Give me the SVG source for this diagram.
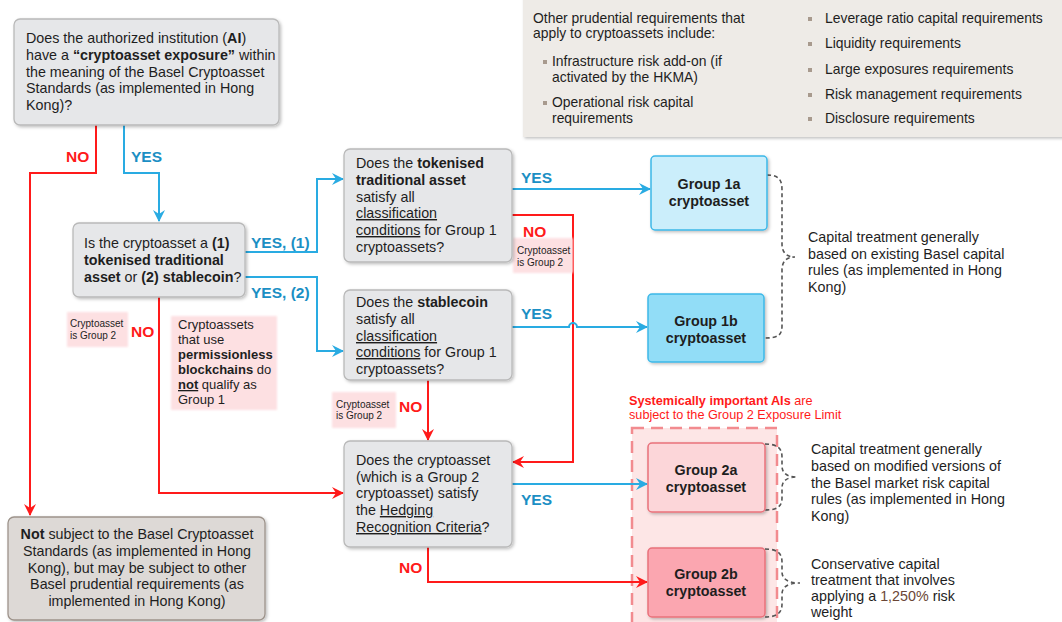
<svg xmlns="http://www.w3.org/2000/svg" width="1062" height="622" viewBox="0 0 1062 622">
<style>
text{font-family:"Liberation Sans",Arial,sans-serif;fill:#1e1e1e}
.t{font-size:14.3px}
.s{font-size:13.9px}
.n{font-size:13px}
.xs{font-size:10px}
.b{font-weight:bold}
.u{text-decoration:underline}
.q{fill:#e6e7e9;stroke:#b9b9b9;stroke-width:1.3}
.lab{font-size:15.5px;font-weight:bold}
.yl{fill:#1b8fc4}
.nl{fill:#ff1a1a}
.bl{fill:none;stroke:#29abe2;stroke-width:2}
.rl{fill:none;stroke:#ff1a1a;stroke-width:2}
.note{fill:#fde0e2}
.br{fill:none;stroke:#555;stroke-width:1.6;stroke-dasharray:4 3}
.g{font-size:14.3px;font-weight:bold;text-anchor:middle}
</style>
<defs>
<filter id="sh" x="-10%" y="-10%" width="125%" height="130%"><feDropShadow dx="1.5" dy="1.5" stdDeviation="1.4" flood-color="#000" flood-opacity="0.25"/></filter>
<filter id="soft" x="-10%" y="-10%" width="120%" height="120%"><feGaussianBlur stdDeviation="1.2"/></filter>
<marker id="ab" viewBox="0 0 12 12" refX="11" refY="6" markerWidth="12" markerHeight="12" markerUnits="userSpaceOnUse" orient="auto"><path d="M0,0 L12,6 L0,12 L4,6 z" fill="#29abe2"/></marker>
<marker id="ar" viewBox="0 0 12 12" refX="11" refY="6" markerWidth="12" markerHeight="12" markerUnits="userSpaceOnUse" orient="auto"><path d="M0,0 L12,6 L0,12 L4,6 z" fill="#ff1a1a"/></marker>
</defs>

<rect x="0" y="0" width="1062" height="622" fill="#fff"/>

<!-- Other requirements panel -->
<g id="other-reqs">
<rect x="523" y="-4" width="545" height="141" fill="#eeebe7" filter="url(#sh)"/>
<text class="s" x="533" y="23">Other prudential requirements that</text>
<text class="s" x="533" y="38">apply to cryptoassets include:</text>
<rect x="543" y="60" width="4" height="4" fill="#a89a8e"/>
<text class="s" x="552" y="66">Infrastructure risk add-on (if</text>
<text class="s" x="552" y="82">activated by the HKMA)</text>
<rect x="543" y="101" width="4" height="4" fill="#a89a8e"/>
<text class="s" x="552" y="107">Operational risk capital</text>
<text class="s" x="552" y="123">requirements</text>
<rect x="808" y="17" width="4" height="4" fill="#a89a8e"/>
<text class="s" x="825" y="23">Leverage ratio capital requirements</text>
<rect x="808" y="42" width="4" height="4" fill="#a89a8e"/>
<text class="s" x="825" y="48">Liquidity requirements</text>
<rect x="808" y="68" width="4" height="4" fill="#a89a8e"/>
<text class="s" x="825" y="74">Large exposures requirements</text>
<rect x="808" y="93" width="4" height="4" fill="#a89a8e"/>
<text class="s" x="825" y="99">Risk management requirements</text>
<rect x="808" y="117" width="4" height="4" fill="#a89a8e"/>
<text class="s" x="825" y="123">Disclosure requirements</text>
</g>

<!-- Group 2 limit region -->
<g id="group2-region">
<rect x="632" y="428" width="145" height="200" fill="#fde6e6" stroke="#f28b8f" stroke-width="2.5" stroke-dasharray="12 7"/>
<text x="629" y="405" style="font-size:12.7px;fill:#ff1a1a"><tspan class="b" style="fill:#ff1a1a">Systemically important AIs</tspan> are</text>
<text x="629" y="419" style="font-size:12.7px;fill:#ff1a1a">subject to the Group 2 Exposure Limit</text>
</g>

<!-- Connectors -->
<g id="connectors">
<polyline class="rl" points="96,125 96,173 30,173 30,515" marker-end="url(#ar)"/>
<polyline class="bl" points="124,125 124,173 159,173 159,221" marker-end="url(#ab)"/>
<polyline class="bl" points="245,252 317,252 317,179 343,179" marker-end="url(#ab)"/>
<polyline class="bl" points="245,277 317,277 317,351 343,351" marker-end="url(#ab)"/>
<polyline class="bl" points="512,189 650,189" marker-end="url(#ab)"/>
<polyline class="rl" points="512,215 573,215 573,462 513,462" marker-end="url(#ar)"/>
<path class="bl" d="M512,327 L569,327 A4,4 0 0 1 577,327 L647,327" marker-end="url(#ab)"/>
<polyline class="rl" points="428,380 428,440" marker-end="url(#ar)"/>
<polyline class="rl" points="159,297 159,493 343,493" marker-end="url(#ar)"/>
<polyline class="bl" points="512,484 647,484" marker-end="url(#ab)"/>
<polyline class="rl" points="428,547 428,582 647,582" marker-end="url(#ar)"/>
<path class="br" d="M767,175 C779,175 782,180 782,190 L782,244 C782,252 786,257 795,257 C786,257 782,262 782,270 L782,326 C782,335 778,338 765,338"/>
<path class="br" d="M765,444 C778,444 782,449 782,457 L782,466 C782,473 787,477 797,477 C787,477 782,481 782,488 L782,498 C782,506 778,510 765,510"/>
<path class="br" d="M765,549 C778,549 782,554 782,562 L782,572 C782,579 788,583 800,583 C788,583 782,587 782,594 L782,604 C782,612 778,617 765,617"/>
<text class="lab nl" x="66" y="162">NO</text>
<text class="lab yl" x="131" y="162">YES</text>
<text class="lab yl" x="251" y="248">YES, (1)</text>
<text class="lab yl" x="251" y="298">YES, (2)</text>
<text class="lab yl" x="521" y="183">YES</text>
<text class="lab nl" x="523" y="237">NO</text>
<text class="lab yl" x="521" y="319">YES</text>
<text class="lab nl" x="131" y="337">NO</text>
<text class="lab nl" x="399" y="412">NO</text>
<text class="lab yl" x="521" y="505">YES</text>
<text class="lab nl" x="399" y="573">NO</text>
</g>

<!-- Notes -->
<g id="note-g2-a">
<rect class="note" x="67" y="312" width="61" height="35" filter="url(#soft)"/>
<text class="xs" x="70" y="327">Cryptoasset</text>
<text class="xs" x="70" y="339">is Group 2</text>
</g>
<g id="note-g2-b">
<rect class="note" x="513" y="238" width="60" height="35" filter="url(#soft)"/>
<text class="xs" x="517" y="254">Cryptoasset</text>
<text class="xs" x="517" y="266">is Group 2</text>
</g>
<g id="note-g2-c">
<rect class="note" x="332" y="392" width="64" height="36" filter="url(#soft)"/>
<text class="xs" x="336" y="408">Cryptoasset</text>
<text class="xs" x="336" y="419">is Group 2</text>
</g>
<g id="note-permissionless">
<rect class="note" x="171" y="316" width="106" height="94" filter="url(#soft)"/>
<text class="n" x="178" y="329">Cryptoassets</text>
<text class="n" x="178" y="344">that use</text>
<text class="n b" x="178" y="359">permissionless</text>
<text class="n" x="178" y="374"><tspan class="b">blockchains</tspan> do</text>
<text class="n" x="178" y="389"><tspan class="b u">not</tspan> qualify as</text>
<text class="n" x="178" y="404">Group 1</text>
</g>

<!-- Decision nodes -->
<g id="q-exposure">
<rect class="q" x="14" y="19" width="265" height="106" rx="6" filter="url(#sh)"/>
<text class="t" x="26" y="43">Does the authorized institution (<tspan class="b">AI</tspan>)</text>
<text class="t" x="26" y="60">have a <tspan class="b">“cryptoasset exposure”</tspan> within</text>
<text class="t" x="26" y="77">the meaning of the Basel Cryptoasset</text>
<text class="t" x="26" y="93">Standards (as implemented in Hong</text>
<text class="t" x="26" y="110">Kong)?</text>
</g>
<g id="q-type">
<rect class="q" x="73" y="223" width="172" height="74" rx="6" filter="url(#sh)"/>
<text class="t" x="84" y="248">Is the cryptoasset a <tspan class="b">(1)</tspan></text>
<text class="t b" x="84" y="265">tokenised traditional</text>
<text class="t" x="84" y="282"><tspan class="b">asset</tspan> or <tspan class="b">(2) stablecoin</tspan>?</text>
</g>
<g id="q-tokenised">
<rect class="q" x="344" y="149" width="168" height="113" rx="6" filter="url(#sh)"/>
<text class="t" x="356" y="168">Does the <tspan class="b">tokenised</tspan></text>
<text class="t b" x="356" y="185">traditional asset</text>
<text class="t" x="356" y="202">satisfy all</text>
<text class="t u" x="356" y="218">classification</text>
<text class="t" x="356" y="235"><tspan class="u">conditions</tspan> for Group 1</text>
<text class="t" x="356" y="252">cryptoassets?</text>
</g>
<g id="q-stablecoin">
<rect class="q" x="344" y="290" width="168" height="90" rx="6" filter="url(#sh)"/>
<text class="t" x="356" y="307">Does the <tspan class="b">stablecoin</tspan></text>
<text class="t" x="356" y="324">satisfy all</text>
<text class="t u" x="356" y="341">classification</text>
<text class="t" x="356" y="357"><tspan class="u">conditions</tspan> for Group 1</text>
<text class="t" x="356" y="374">cryptoassets?</text>
</g>
<g id="q-hedging">
<rect class="q" x="344" y="441" width="168" height="106" rx="6" filter="url(#sh)"/>
<text class="t" x="356" y="465">Does the cryptoasset</text>
<text class="t" x="356" y="482">(which is a Group 2</text>
<text class="t" x="356" y="498">cryptoasset) satisfy</text>
<text class="t" x="356" y="515">the <tspan class="u">Hedging</tspan></text>
<text class="t" x="356" y="532"><tspan class="u">Recognition Criteria</tspan>?</text>
</g>

<!-- Outcome nodes -->
<g id="not-subject">
<rect x="8" y="517" width="257" height="103" rx="6" fill="#ddd9d6" stroke="#9d938b" stroke-width="1.3" filter="url(#sh)"/>
<text class="t" x="137" y="539" text-anchor="middle"><tspan class="b">Not</tspan> subject to the Basel Cryptoasset</text>
<text class="t" x="137" y="556" text-anchor="middle">Standards (as implemented in Hong</text>
<text class="t" x="137" y="573" text-anchor="middle">Kong), but may be subject to other</text>
<text class="t" x="137" y="589" text-anchor="middle">Basel prudential requirements (as</text>
<text class="t" x="137" y="606" text-anchor="middle">implemented in Hong Kong)</text>
</g>
<g id="group-1a">
<rect x="651" y="156" width="116" height="74" rx="4" fill="#cbeefb" stroke="#3cb8e8" stroke-width="1.5" filter="url(#sh)"/>
<text class="g" x="709" y="189">Group 1a</text>
<text class="g" x="709" y="206">cryptoasset</text>
</g>
<g id="group-1b">
<rect x="648" y="294" width="116" height="68" rx="4" fill="#92ddf7" stroke="#3cb8e8" stroke-width="1.5" filter="url(#sh)"/>
<text class="g" x="706" y="326">Group 1b</text>
<text class="g" x="706" y="343">cryptoasset</text>
</g>
<g id="group-2a">
<rect x="648" y="443" width="117" height="69" rx="4" fill="#fcd6d9" stroke="#e9717b" stroke-width="1.5" filter="url(#sh)"/>
<text class="g" x="706" y="475">Group 2a</text>
<text class="g" x="706" y="492">cryptoasset</text>
</g>
<g id="group-2b">
<rect x="648" y="548" width="117" height="69" rx="4" fill="#fba6b0" stroke="#e9717b" stroke-width="1.5" filter="url(#sh)"/>
<text class="g" x="706" y="579">Group 2b</text>
<text class="g" x="706" y="596">cryptoasset</text>
</g>

<!-- Treatment descriptions -->
<g id="desc-group1">
<text class="t" x="808" y="242">Capital treatment generally</text>
<text class="t" x="808" y="259">based on existing Basel capital</text>
<text class="t" x="808" y="275">rules (as implemented in Hong</text>
<text class="t" x="808" y="292">Kong)</text>
</g>
<g id="desc-group2a">
<text class="t" x="811" y="454">Capital treatment generally</text>
<text class="t" x="811" y="471">based on modified versions of</text>
<text class="t" x="811" y="488">the Basel market risk capital</text>
<text class="t" x="811" y="504">rules (as implemented in Hong</text>
<text class="t" x="811" y="521">Kong)</text>
</g>
<g id="desc-group2b">
<text class="t" x="811" y="569">Conservative capital</text>
<text class="t" x="811" y="585">treatment that involves</text>
<text class="t" x="811" y="601">applying a <tspan style="fill:#6b4636">1,250%</tspan> risk</text>
<text class="t" x="811" y="617">weight</text>
</g>
</svg>
